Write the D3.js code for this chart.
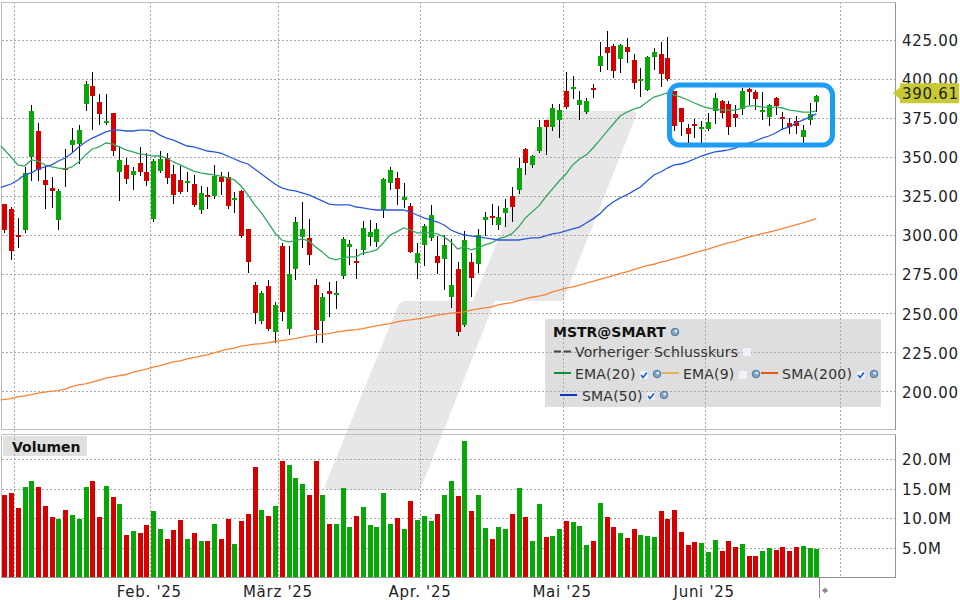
<!DOCTYPE html>
<html><head><meta charset="utf-8">
<script src="https://cdn.jsdelivr.net/npm/d3@7/dist/d3.min.js"></script>
<style>html,body{margin:0;padding:0;background:#fff}svg{display:block}text{font-family:"DejaVu Sans",sans-serif}</style>
</head><body><svg id="c" width="960" height="600"></svg>
<script>
const opens=[319.8,316.6,300.0,303.2,349.9,366.5,335.2,330.1,309.6,342.8,357.5,358.2,383.7,395.2,385.0,371.6,378.0,340.3,344.8,338.4,346.0,340.3,310.3,340.9,349.2,339.0,335.2,333.3,332.6,316.0,325.6,325.0,337.1,337.1,322.4,328.2,303.9,268.1,245.1,267.4,238.1,293.0,240.0,278.3,298.8,298.1,268.1,245.1,264.3,261.7,273.8,292.4,283.4,290.5,298.8,295.6,316.0,333.3,336.5,322.4,318.6,282.1,293.7,298.1,286.6,284.7,260.4,278.3,242.5,282.8,281.5,309.6,312.2,306.4,314.1,325.0,328.8,355.0,344.8,353.7,373.5,369.0,373.5,392.0,393.3,383.1,378.6,394.0,408.0,420.2,420.8,412.5,420.2,411.9,398.4,392.7,413.8,415.7,413.1,392.0,381.2,368.4,371.0,367.8,367.8,379.3,385.7,383.7,377.4,380.5,393.3,391.4,378.6,375.4,387.6,375.4,371.6,372.9,362.7,373.5,385.0];
const closes=[303.2,289.8,298.8,339.7,379.3,341.6,332.0,328.2,328.2,341.6,360.7,367.1,396.5,388.9,377.4,372.9,353.7,348.0,335.8,340.9,340.3,334.5,347.3,348.6,336.5,325.6,327.5,334.5,319.2,326.9,324.3,337.7,333.9,318.6,323.7,299.4,282.8,250.2,263.0,240.0,255.3,250.8,275.1,308.3,303.9,287.3,239.3,260.4,262.3,263.0,297.5,294.3,282.1,304.5,302.0,303.9,335.8,341.6,329.4,324.3,289.2,288.5,305.8,312.8,282.1,293.7,268.1,238.1,296.8,272.6,300.0,311.5,310.9,311.5,317.3,317.9,342.8,346.0,350.5,369.0,369.0,381.2,379.9,381.8,394.6,386.3,385.7,392.7,414.4,416.3,404.8,421.4,417.0,397.2,399.7,413.8,417.0,402.9,399.7,369.7,372.2,364.6,369.7,369.0,372.2,387.6,378.0,369.0,374.8,392.0,391.4,386.9,379.9,383.1,382.5,374.2,369.0,369.7,367.1,377.4,388.9];
const highs=[319.8,317.9,310.9,343.5,383.1,371.6,344.1,337.1,329.4,355.0,368.4,370.3,398.4,404.2,390.1,390.1,378.0,356.9,349.2,343.5,356.3,352.4,348.6,353.7,352.4,344.8,344.1,340.3,338.4,331.3,330.7,344.8,340.3,340.3,327.5,328.8,303.9,270.0,264.3,271.3,257.2,294.9,293.0,311.5,321.1,310.3,271.9,263.0,270.0,270.6,298.8,296.8,291.1,309.0,309.6,307.7,336.5,343.5,340.3,333.3,320.5,294.9,307.1,319.2,299.4,300.0,297.5,282.8,302.6,288.5,303.9,314.7,319.8,318.6,323.1,330.7,349.2,355.6,351.2,373.5,373.5,383.7,383.7,404.2,401.6,392.0,387.6,396.5,423.4,430.4,422.1,422.1,425.9,415.7,406.8,414.4,419.5,423.4,426.6,392.0,381.2,371.0,374.2,372.9,378.0,390.8,386.3,385.7,383.1,394.0,394.0,392.7,391.4,383.7,388.2,378.6,374.8,376.1,370.3,384.4,389.5];
const lows=[301.3,284.1,291.7,301.3,334.5,334.5,316.6,317.3,303.2,330.7,352.4,345.4,379.3,367.1,370.3,370.3,350.5,321.8,332.6,328.8,337.7,331.3,308.3,339.7,332.6,319.8,326.2,327.5,317.9,313.5,316.6,323.1,325.6,316.6,314.1,298.1,275.8,243.2,243.2,238.7,231.0,245.1,236.1,271.3,291.7,280.9,231.0,231.0,247.6,252.7,271.9,280.9,271.9,287.3,293.0,292.4,310.9,328.8,319.2,317.3,288.5,271.9,280.2,296.2,275.1,264.9,253.4,235.5,241.2,260.4,275.8,299.4,306.4,303.2,305.1,308.3,326.2,338.4,342.8,352.4,351.2,366.5,362.0,380.5,386.9,373.5,377.4,387.6,404.2,405.5,400.4,403.6,409.9,393.3,388.2,392.0,405.5,394.6,398.4,366.5,363.3,358.8,362.0,358.8,366.5,371.0,374.8,363.9,369.0,376.7,383.1,379.9,373.5,369.7,376.7,367.1,364.6,364.6,358.8,370.3,378.6];
const volumes=[13.9,14.2,11.7,15.3,16.3,15.3,12.0,10.2,9.8,11.4,10.5,9.8,15.3,16.3,10.2,15.4,13.6,12.4,7.1,7.8,7.5,8.8,11.2,8.1,6.4,8.0,9.7,6.4,7.5,6.1,6.1,9.0,6.4,9.8,5.6,9.5,10.7,18.6,11.4,10.3,12.0,19.7,19.0,16.8,15.8,13.9,19.7,13.9,9.0,9.0,15.1,8.5,10.3,11.9,8.8,8.5,14.2,9.0,10.0,8.1,12.9,9.7,10.3,9.5,10.7,13.9,16.3,13.7,23.1,11.2,13.9,8.3,6.4,8.5,8.1,10.7,15.1,10.2,6.1,12.4,6.8,6.9,8.1,9.5,9.3,8.6,5.4,6.1,12.5,10.2,8.5,7.5,6.6,8.1,7.1,6.9,6.8,11.2,9.8,11.4,7.6,5.4,5.9,5.8,4.2,6.3,4.4,6.1,5.1,5.6,3.6,3.6,4.4,4.9,4.6,5.1,4.4,5.1,5.3,4.9,4.7];
const ema20=[356.9,349.9,344.8,344.1,348.0,347.3,344.8,343.5,342.8,342.2,343.5,346.7,351.2,355.0,356.3,358.8,358.2,356.3,354.4,353.1,351.8,351.2,350.5,350.5,349.2,346.7,344.8,342.8,340.9,339.7,339.0,338.4,337.7,336.5,335.2,331.3,325.6,319.2,314.1,307.7,301.3,296.8,295.6,296.2,297.5,296.2,292.4,289.2,285.3,284.1,285.3,286.0,286.0,288.5,289.2,290.5,294.9,300.0,302.0,304.5,303.2,301.3,301.3,301.3,300.7,298.8,295.6,291.1,292.4,290.5,291.7,293.7,294.9,297.5,298.8,300.7,305.1,310.9,314.7,318.6,324.3,329.4,334.5,339.0,344.8,348.6,351.2,355.6,360.7,365.9,371.0,376.1,378.6,380.5,381.8,385.0,388.2,389.5,390.8,389.5,388.2,386.3,384.4,382.5,381.2,380.5,379.9,379.9,379.9,381.2,382.5,382.5,381.8,381.8,381.8,381.2,379.9,379.3,378.6,378.6,379.3];
const sma50=[330.4,332.6,335.2,338.4,339.7,342.2,343.5,344.8,347.3,349.2,352.4,356.3,359.5,362.0,363.9,365.9,367.1,367.1,366.5,366.5,367.1,367.1,366.5,363.9,362.0,360.7,358.8,356.9,356.3,355.0,353.7,353.1,352.4,350.5,348.6,346.7,345.4,342.2,339.0,335.8,332.6,330.1,328.8,328.2,326.9,325.6,323.7,321.8,319.8,319.2,319.2,319.2,317.9,317.3,316.6,316.0,316.0,316.0,316.0,316.0,314.7,312.8,310.9,309.6,308.3,306.4,303.2,301.3,300.0,299.4,298.8,298.1,297.5,296.8,296.8,296.8,296.8,297.5,298.1,298.1,299.4,300.7,301.3,302.6,303.9,305.1,307.7,310.3,313.5,317.9,321.1,323.7,325.6,328.2,330.7,334.5,338.4,340.3,342.8,344.8,345.4,346.7,348.6,350.5,351.8,353.1,353.7,354.4,355.6,357.5,358.8,360.1,362.0,363.3,365.2,367.8,369.0,371.6,373.5,375.4,377.4];
const sma200=[194.6,195.4,196.5,197.2,198.0,198.9,199.5,200.2,200.5,201.4,203.1,204.2,204.8,205.9,207.2,208.5,209.3,210.1,210.8,212.3,213.3,214.2,215.5,216.5,217.8,218.9,219.5,220.8,221.6,222.5,223.4,224.6,225.9,227.0,227.6,228.9,229.6,230.2,230.6,231.2,231.9,232.5,233.1,233.8,234.7,235.5,236.1,236.6,237.0,237.9,238.5,239.1,239.5,240.2,241.1,241.9,242.7,243.4,244.4,245.3,245.7,246.4,247.0,247.8,248.7,249.4,250.0,250.4,250.8,251.9,252.7,253.4,254.0,255.3,256.1,256.8,258.1,259.3,260.2,260.9,261.9,263.6,264.7,266.0,266.8,267.9,269.2,270.4,271.7,272.7,274.0,275.5,276.4,277.9,279.1,280.4,281.3,282.6,283.6,284.9,286.0,287.3,288.5,289.8,290.9,292.4,293.7,294.9,296.0,297.3,298.6,299.8,300.9,301.9,303.0,304.1,305.3,306.4,307.7,309.0,310.4];
const priceTicks=[200,225,250,275,300,325,350,375,400,425];
const volumeTicks=[5,10,15,20];
const monthPositions=[21.5,40.5,61.5,82.5,103.5];
const monthLabels=["Feb. '25","März '25","Apr. '25","Mai '25","Juni '25"];
const extraGrid=[1.5,123.5];
const lastPrice=390.61;

const COL={up:"#06a806",down:"#d60000",grid:"#a8a8a8",ema:"#35a862",sma50:"#2a58d8",sma200:"#f58436",hl:"#1c9cf2",txt:"#222"};
const svg=d3.select("#c");
const x=d3.scaleLinear().domain([0,120]).range([4.3,816.3]);
const y=d3.scaleLinear().domain([200,425]).range([391.4,39.5]);
const v=d3.scaleLinear().domain([0,20]).range([577,459]);

// watermark
svg.append("path").attr("fill","#e7e7e7").attr("d","M550,111 L632,111 Q638,111 636,116 L563,301 L495,301 L422,485 Q420,490 415,490 L331,490 Q323,490 326,483 L398,306 Q400,301 406,301 L473,301 Z");
// legend background
svg.append("rect").attr("x",545).attr("y",319).attr("width",336).attr("height",88).attr("fill","#dedede");
svg.append("rect").attr("x",3).attr("y",436).attr("width",84).attr("height",20).attr("fill","#e0e0e0");

// grid
const grid=svg.append("g").attr("stroke",COL.grid).attr("stroke-dasharray","2,2").attr("fill","none").attr("shape-rendering","crispEdges");
priceTicks.forEach(t=>grid.append("line").attr("x1",2).attr("x2",895).attr("y1",Math.round(y(t))+.5).attr("y2",Math.round(y(t))+.5));
volumeTicks.forEach(t=>grid.append("line").attr("x1",2).attr("x2",895).attr("y1",Math.round(v(t))+.5).attr("y2",Math.round(v(t))+.5));
monthPositions.concat(extraGrid).forEach(t=>grid.append("line").attr("y1",2).attr("y2",577).attr("x1",Math.round(x(t))+.5).attr("x2",Math.round(x(t))+.5));

// frames
const fr=svg.append("g").attr("fill","none").attr("shape-rendering","crispEdges");
fr.append("path").attr("stroke","#bdbdbd").attr("d","M1.5,429.5 V2.5 H895.5 M1.5,434.5 H895.5 M1.5,434.5 V577.5 M1.5,429.5 H895.5");
fr.append("path").attr("stroke","#949494").attr("d","M895.5,2.5 V429.5 M895.5,434.5 V577.5 H1.5");
fr.append("path").attr("stroke","#8a8a8a").attr("d","M819.5,577.5 V598");
svg.append("path").attr("fill","#8a8a8a").attr("d","M822,590.5 l3.5,-3.5 v2 h2 v3 h-2 v2 z");

// volume bars
const isUp=i=>closes[i]>=opens[i];
svg.append("g").attr("shape-rendering","crispEdges").selectAll("rect").data(volumes).join("rect")
 .attr("x",(d,i)=>Math.round(x(i))-2).attr("width",5)
 .attr("y",d=>v(d)).attr("height",d=>577-v(d))
 .attr("fill",(d,i)=>isUp(i)?COL.up:COL.down);

// candles
const cg=svg.append("g").attr("shape-rendering","crispEdges");
cg.selectAll("rect.w").data(opens).join("rect").attr("class","w")
 .attr("x",(d,i)=>Math.round(x(i))).attr("width",1)
 .attr("y",(d,i)=>y(highs[i])).attr("height",(d,i)=>y(lows[i])-y(highs[i])).attr("fill","#000");
cg.selectAll("rect.b").data(opens).join("rect").attr("class","b")
 .attr("x",(d,i)=>Math.round(x(i))-2).attr("width",5)
 .attr("y",(d,i)=>y(Math.max(opens[i],closes[i])))
 .attr("height",(d,i)=>Math.max(2,Math.abs(y(opens[i])-y(closes[i]))))
 .attr("fill",(d,i)=>isUp(i)?COL.up:COL.down);

// moving averages (the first point sits at the pane's left edge)
const line=d3.line().x((d,i)=>i===0?x(-0.5):x(i)).y(d=>y(d));
[[ema20,COL.ema],[sma50,COL.sma50],[sma200,COL.sma200]].forEach(([s,c])=>
 svg.append("path").attr("d",line(s)).attr("fill","none").attr("stroke",c).attr("stroke-width",1.3));

// highlight box
svg.append("rect").attr("x",669.5).attr("y",85).attr("width",163).attr("height",60).attr("rx",10).attr("fill","none").attr("stroke",COL.hl).attr("stroke-width",5);

// axes
function styleAxis(g){g.select(".domain").remove();g.selectAll("line").remove();g.selectAll("text").attr("fill",COL.txt).style("font-size","15px").style("letter-spacing","0.7px");}
svg.append("g").attr("transform","translate(895,1)").call(d3.axisRight(y).tickValues(priceTicks).tickSize(0).tickPadding(7).tickFormat(d3.format(".2f"))).call(styleAxis);
svg.append("g").attr("transform","translate(895,1)").call(d3.axisRight(v).tickValues(volumeTicks).tickSize(0).tickPadding(7).tickFormat(d=>d3.format(".1f")(d)+"M")).call(styleAxis);
svg.append("g").attr("transform","translate(-1,578)").call(d3.axisBottom(x).tickValues(monthPositions).tickSize(0).tickPadding(8).tickFormat((d,i)=>monthLabels[i])).call(styleAxis);
svg.selectAll("g text").style("font-family",'"DejaVu Sans",sans-serif');

// last price tag
const ly=y(lastPrice);
svg.append("path").attr("fill","#c9c934").attr("d",`M893,${ly} L900,${ly-6} V${ly-10} H959 V${ly+10} H900 V${ly+6} Z`);
svg.append("text").attr("x",902).attr("y",ly+5.5).attr("fill",COL.txt).style("font-size","15px").style("letter-spacing","0.7px").text(d3.format(".2f")(lastPrice));

// legend
function t(xp,yp,s,bold,size,ls){return svg.append("text").attr("x",xp).attr("y",yp).attr("fill",bold?"#111":"#333").style("font-size",(size||14)+"px").style("font-weight",bold?"bold":"normal").style("letter-spacing",(ls||0)+"px").text(s);}
t(553,337,"MSTR@SMART",true,14);
t(575,357,"Vorheriger Schlusskurs",false,14,.15);
t(575,379,"EMA(20)",false,14,.2);
t(683,379,"EMA(9)",false,14,.2);
t(782,379,"SMA(200)",false,14,.25);
t(582,401,"SMA(50)",false,14,.2);
t(12,452,"Volumen",true,14);
const sw=(x1,yp,c,dash)=>svg.append("line").attr("x1",x1).attr("x2",x1+17).attr("y1",yp).attr("y2",yp).attr("stroke",c).attr("stroke-width",2).attr("stroke-dasharray",dash||null);
sw(554,351.5,"#444","7,3");sw(554,373,"#0a9438");sw(662,373,"#e3b35a");sw(761,373,"#e25a12");sw(560,395,"#0a36bb");
function box(xp,yp,checked){svg.append("rect").attr("x",xp-4).attr("y",yp-4).attr("width",8).attr("height",8).attr("rx",1).attr("fill","#f2f2fa");
 if(checked)svg.append("path").attr("d",`M${xp-3},${yp} l2,2.5 l4,-5`).attr("fill","none").attr("stroke","#1560d8").attr("stroke-width",1.6);}
function gear(xp,yp){svg.append("circle").attr("cx",xp).attr("cy",yp).attr("r",3.8).attr("fill","#7fa3c4").attr("stroke","#3c6a92").attr("stroke-width",.8);
 svg.append("circle").attr("cx",xp+.8).attr("cy",yp-.8).attr("r",1.4).attr("fill","#dbe8f4");}
gear(675,332);box(747,352,false);box(644,375,true);gear(657,374);box(743,375,false);gear(756,374);box(861,375,true);gear(874,374);box(651,396,true);gear(664,395);
</script></body></html>
